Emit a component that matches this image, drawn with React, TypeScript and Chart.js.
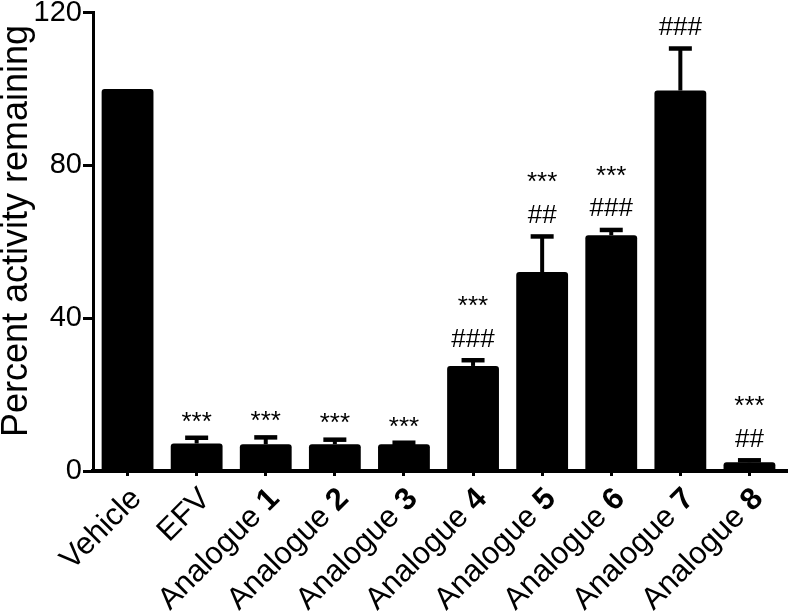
import React, { useEffect, useRef } from 'react';
import { Chart, registerables } from 'chart.js';

Chart.register(...registerables);

const categories = ['Vehicle', 'EFV', 'Analogue 1', 'Analogue 2', 'Analogue 3', 'Analogue 4', 'Analogue 5', 'Analogue 6', 'Analogue 7', 'Analogue 8'];
const boldParts = ['', '', '1', '2', '3', '4', '5', '6', '7', '8'];
const values = [100, 7.2, 7.0, 7.0, 7.0, 27.5, 52.1, 61.7, 99.6, 2.3];
const errors = [0, 1.5, 1.8, 1.2, 0.4, 1.5, 9.3, 1.4, 11.0, 0.5];
const starMarks = ['', '***', '***', '***', '***', '***', '***', '***', '', '***'];
const hashMarks = ['', '', '', '', '', '###', '##', '###', '###', '##'];
const yTicks = [0, 40, 80, 120];
const yTitle = 'Percent activity remaining';

const FONT = '"Liberation Sans", Arial, Helvetica, sans-serif';

const customPlugin = {
  id: 'custom',
  afterDatasetsDraw(chart: any) {
    const ctx = chart.ctx;
    const meta = chart.getDatasetMeta(0);
    const y = chart.scales.y;
    ctx.save();
    ctx.fillStyle = '#000';
    ctx.strokeStyle = '#000';
    meta.data.forEach((bar: any, i: number) => {
      const cx = bar.x;
      const top = y.getPixelForValue(values[i]);
      const et = y.getPixelForValue(values[i] + errors[i]);
      if (errors[i] > 0) {
        ctx.lineWidth = 4;
        ctx.beginPath();
        ctx.moveTo(cx, top);
        ctx.lineTo(cx, et);
        ctx.stroke();
        ctx.lineWidth = 4.5;
        ctx.beginPath();
        ctx.moveTo(cx - 11.5, et);
        ctx.lineTo(cx + 11.5, et);
        ctx.stroke();
      }
      ctx.font = `26px ${FONT}`;
      ctx.textAlign = 'center';
      ctx.textBaseline = 'alphabetic';
      const lowerC = et - 23;
      const upperC = et - 61;
      const drawMark = (txt: string, c: number) => {
        const isStar = txt.indexOf('*') >= 0;
        const base = c + (isStar ? 0.57 : 0.36) * 26;
        ctx.fillText(txt, cx, base);
      };
      if (hashMarks[i]) {
        drawMark(hashMarks[i], lowerC);
        if (starMarks[i]) drawMark(starMarks[i], upperC);
      } else if (starMarks[i]) {
        drawMark(starMarks[i], lowerC);
      }
    });
    ctx.restore();
  },
  afterDraw(chart: any) {
    const ctx = chart.ctx;
    const x = chart.scales.x;
    const area = chart.chartArea;
    ctx.save();
    ctx.fillStyle = '#000';
    ctx.fillRect(area.right - 1, area.bottom - 2, chart.width - area.right + 1, 4);
    const fs = 31;
    categories.forEach((cat, i) => {
      const cx = x.getPixelForValue(i);
      const bold = boldParts[i];
      const prefix = bold ? cat.slice(0, cat.length - bold.length) : cat;
      ctx.save();
      ctx.translate(cx + 9, area.bottom + 23);
      ctx.rotate(-Math.PI / 4);
      ctx.textBaseline = 'middle';
      ctx.textAlign = 'left';
      ctx.font = `bold ${fs}px ${FONT}`;
      const wb = bold ? ctx.measureText(bold).width : 0;
      ctx.font = `${fs}px ${FONT}`;
      const wp = ctx.measureText(prefix).width;
      ctx.fillText(prefix, -(wp + wb), 0);
      if (bold) {
        ctx.font = `bold ${fs}px ${FONT}`;
        ctx.fillText(bold, -wb, 0);
      }
      ctx.restore();
    });
    ctx.save();
    ctx.translate(27, 231);
    ctx.rotate(-Math.PI / 2);
    ctx.font = `36px ${FONT}`;
    ctx.textAlign = 'center';
    ctx.textBaseline = 'alphabetic';
    ctx.fillText(yTitle, 0, 0);
    ctx.restore();
    ctx.restore();
  },
};

export default function App() {
  const ref = useRef<HTMLCanvasElement | null>(null);
  useEffect(() => {
    if (!ref.current) return;
    const chart = new Chart(ref.current, {
      type: 'bar',
      data: {
        labels: categories,
        datasets: [
          {
            data: values,
            backgroundColor: '#000',
            borderColor: '#000',
            borderWidth: 0,
            borderRadius: 3,
            borderSkipped: 'bottom',
            barPercentage: 0.75,
            categoryPercentage: 1,
          },
        ],
      },
      options: {
        animation: false,
        responsive: false,
        maintainAspectRatio: false,
        layout: { padding: { top: 12, right: 4, bottom: 0, left: 0 } },
        plugins: { legend: { display: false }, tooltip: { enabled: false }, title: { display: false } },
        scales: {
          x: {
            grid: { display: true, drawOnChartArea: false, drawTicks: true, tickLength: 5, tickWidth: 3, tickColor: '#000', offset: false },
            border: { display: true, color: '#000', width: 4 },
            ticks: { display: false },
            afterFit(scale: any) {
              scale.height = 145;
            },
          },
          y: {
            min: 0,
            max: 120,
            afterBuildTicks(scale: any) {
              scale.ticks = yTicks.map((v) => ({ value: v }));
            },
            grid: { display: true, drawOnChartArea: false, drawTicks: true, tickLength: 10, tickWidth: 3, tickColor: '#000' },
            border: { display: true, color: '#000', width: 3 },
            ticks: {
              color: '#000',
              padding: 1,
              font: { family: FONT, size: 29, lineHeight: 0.8 },
            },
            afterFit(scale: any) {
              scale.width = 93;
            },
          },
        },
      },
      plugins: [customPlugin],
    });
    return () => chart.destroy();
  }, []);
  return (
    <div style={{ position: 'absolute', left: 0, top: 0, width: 788, height: 616, background: '#fff' }}>
      <canvas ref={ref} width={788} height={616} style={{ display: 'block', width: 788, height: 616 }} />
    </div>
  );
}
